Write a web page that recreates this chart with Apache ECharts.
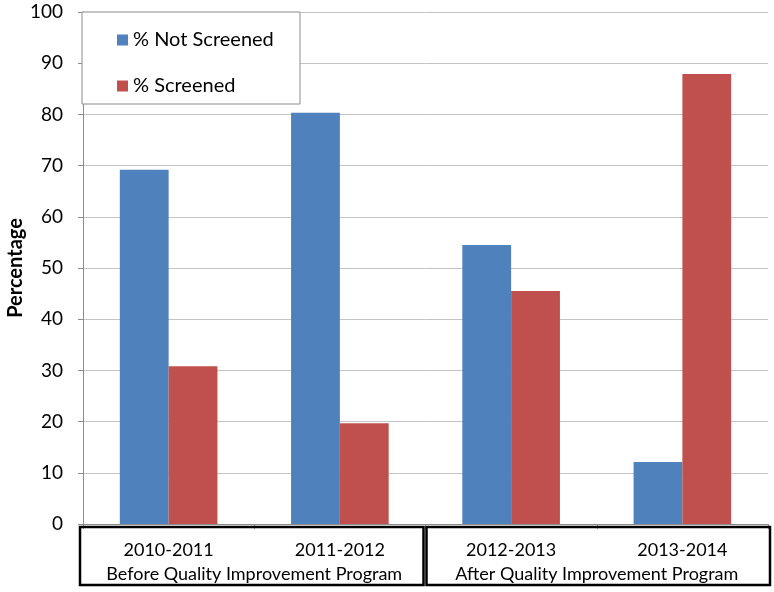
<!DOCTYPE html>
<html><head><meta charset="utf-8">
<script src="https://cdn.jsdelivr.net/npm/echarts@6/dist/echarts.min.js"></script>
<style>html,body{margin:0;padding:0;background:#fff}#c{width:774px;height:592px}</style>
</head><body><div id="c"></div>
<script>
var categories = ['2010-2011','2011-2012','2012-2013','2013-2014'];
var notScreened = [69.2, 80.3, 54.5, 12.1];
var screened = [30.8, 19.7, 45.5, 87.9];
var groupLabels = ['Before Quality Improvement Program','After Quality Improvement Program'];
var yTicks = [0,10,20,30,40,50,60,70,80,90,100];

var FONT = 'Lato, "Liberation Sans", sans-serif';
var chart = echarts.init(document.getElementById('c'), null, {renderer:'canvas'});
var option = {
  animation:false,
  backgroundColor:'#fff',
  textStyle:{fontFamily:FONT},
  grid:{left:83, right:6, top:12, bottom:68, containLabel:false, outerBoundsMode:'none'},
  legend:{
    orient:'vertical', left:112, top:25, itemGap:26, itemWidth:11, itemHeight:11,
    icon:'rect', z:10,
    textStyle:{fontSize:20, color:'#000', fontFamily:FONT},
    data:['% Not Screened','% Screened']
  },
  xAxis:{
    type:'category', data:categories,
    axisLine:{lineStyle:{color:'#8c8c8c', width:1}},
    axisTick:{show:true, length:5, inside:false, lineStyle:{color:'#8c8c8c'}},
    axisLabel:{fontSize:18, color:'#000', margin:17, fontFamily:FONT}
  },
  yAxis:{
    type:'value', min:yTicks[0], max:yTicks[yTicks.length-1], interval:10,
    name:'Percentage', nameLocation:'middle', nameGap:57, nameRotate:90, nameMoveOverlap:false,
    nameTextStyle:{fontSize:20, fontWeight:'bold', color:'#000', fontFamily:FONT},
    axisLine:{show:true, lineStyle:{color:'#8c8c8c'}},
    axisTick:{show:true, length:5, lineStyle:{color:'#8c8c8c'}},
    axisLabel:{fontSize:19, color:'#000', margin:20, fontFamily:FONT},
    splitLine:{lineStyle:{color:'#c4c4c4', width:1}}
  },
  series:[
    {name:'% Not Screened', type:'bar', data:notScreened, barGap:'0%', barCategoryGap:'43%',
     itemStyle:{color:'#4F81BD'}},
    {name:'% Screened', type:'bar', data:screened, barGap:'0%', barCategoryGap:'43%',
     itemStyle:{color:'#C0504D'}}
  ]
};
chart.setOption(option);

function drawExtras(){
  var x0 = chart.convertToPixel({xAxisIndex:0}, categories[0]);
  var x1 = chart.convertToPixel({xAxisIndex:0}, categories[1]);
  var x2 = chart.convertToPixel({xAxisIndex:0}, categories[2]);
  var x3 = chart.convertToPixel({xAxisIndex:0}, categories[3]);
  var step = x1 - x0;
  var yTop = chart.convertToPixel({yAxisIndex:0}, 100);
  var midA = (x0 + x1)/2, midB = (x2 + x3)/2;
  var bTop = 527, bBot = 585;
  chart.setOption({graphic:[
    {type:'rect', z:5, shape:{x:82, y:yTop, width:218, height:92},
     style:{fill:'#fff', stroke:'#8c8c8c', lineWidth:1}},
    {type:'rect', z:5, shape:{x:x0-step/2-3, y:bTop, width:(midA+step)-(x0-step/2-3)-2, height:bBot-bTop},
     style:{fill:null, stroke:'#000', lineWidth:2.5}},
    {type:'rect', z:5, shape:{x:x2-step/2+1, y:bTop, width:(x3+step/2+2)-(x2-step/2+1), height:bBot-bTop},
     style:{fill:null, stroke:'#000', lineWidth:2.5}},
    {type:'text', z:6, x:midA, y:574, style:{text:groupLabels[0], fontSize:18, fill:'#000', fontFamily:FONT, align:'center', verticalAlign:'middle'}},
    {type:'text', z:6, x:midB, y:574, style:{text:groupLabels[1], fontSize:18, fill:'#000', fontFamily:FONT, align:'center', verticalAlign:'middle'}}
  ]});
}
drawExtras();
</script></body></html>
